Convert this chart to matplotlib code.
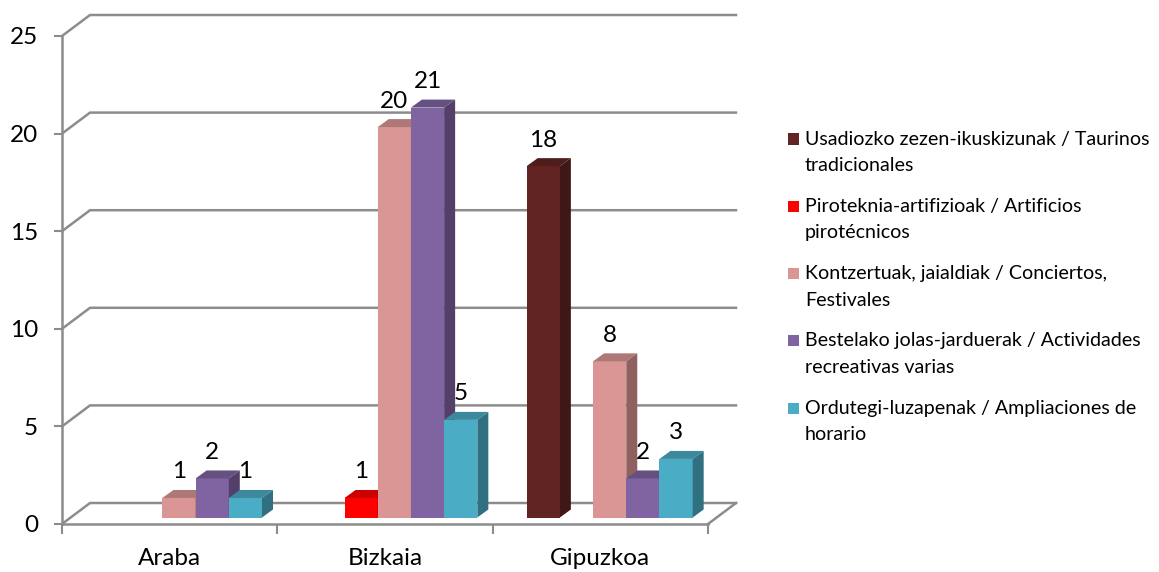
#!/usr/bin/env python3
import matplotlib
matplotlib.use('Agg')
import matplotlib.pyplot as plt
from matplotlib.patches import Polygon, Rectangle

plt.rcParams['font.family'] = ['Lato', 'DejaVu Sans']

provinces = ['Araba', 'Bizkaia', 'Gipuzkoa']
y_ticks = [0, 5, 10, 15, 20, 25]

series_labels = [
    'Usadiozko zezen-ikuskizunak / Taurinos\ntradicionales',
    'Piroteknia-artifizioak / Artificios\npirotécnicos',
    'Kontzertuak, jaialdiak / Conciertos,\nFestivales',
    'Bestelako jolas-jarduerak / Actividades\nrecreativas varias',
    'Ordutegi-luzapenak / Ampliaciones de\nhorario',
]
taurinos = [0, 0, 18]
piroteknia = [0, 1, 0]
kontzertuak = [1, 20, 8]
bestelako = [2, 21, 2]
ordutegi = [1, 5, 3]
series_values = [taurinos, piroteknia, kontzertuak, bestelako, ordutegi]

front_colors = ['#622423', '#ff0000', '#d99694', '#8064a2', '#4bacc6']
top_colors = ['#4f1d1c', '#cc0000', '#ae7876', '#655081', '#3c899e']
side_colors = ['#3e1716', '#a00000', '#8e6160', '#533f6a', '#307080']
grid_color = '#8c8c8c'

W, H = 1159, 572
fig = plt.figure(figsize=(W / 100, H / 100), dpi=100)
ax = fig.add_axes([62 / W, (H - 524) / H, 646 / W, 488 / H])
ax.set_xlim(0, len(provinces))
ax.set_ylim(0, 25)

# pixel sizes turned into data units
px_x = len(provinces) / 646
px_y = 25 / 488
wall_dx, wall_dy = 28 * px_x, 21 * px_y
bar_dx, bar_dy = 11 * px_x, 8 * px_y
base = 6.5 * px_y
bar_w = 33.2 * px_x
group_gap = 34 * px_x

# walls and floor
for v in y_ticks:
    ax.plot([0, wall_dx, len(provinces) + wall_dx], [v, v + wall_dy, v + wall_dy],
            color=grid_color, lw=1.8, clip_on=False, zorder=1, solid_joinstyle='miter')
ax.plot([len(provinces), len(provinces) + wall_dx], [0, wall_dy],
        color=grid_color, lw=1.8, clip_on=False, zorder=1)

# 3d bars, left to right so the next front covers the previous side
for g in range(len(provinces)):
    for s, vals in enumerate(series_values):
        v = vals[g]
        if v == 0:
            continue
        x0 = g + group_gap + s * bar_w
        x1 = x0 + bar_w
        top = base + v
        z = 3 + g * 10 + s
        ax.bar(x0, v, width=bar_w, bottom=base, align='edge', color=front_colors[s],
               linewidth=0, zorder=z, clip_on=False)
        ax.add_patch(Polygon([(x0, top), (x1, top), (x1 + bar_dx, top + bar_dy), (x0 + bar_dx, top + bar_dy)],
                             closed=True, fc=top_colors[s], ec='none', zorder=z, clip_on=False))
        ax.add_patch(Polygon([(x1, base), (x1 + bar_dx, base + bar_dy), (x1 + bar_dx, top + bar_dy), (x1, top)],
                             closed=True, fc=side_colors[s], ec='none', zorder=z, clip_on=False))
        ax.text(x0 + bar_w / 2, top + 26 * px_y, str(v), ha='center', va='center',
                fontsize=17.5, color='black', zorder=100)

# axes
for side in ['top', 'right']:
    ax.spines[side].set_visible(False)
for side in ['left', 'bottom']:
    ax.spines[side].set_color(grid_color)
    ax.spines[side].set_linewidth(1.8)
ax.patch.set_visible(False)
ax.set_yticks(y_ticks)
ax.tick_params(axis='y', length=5.8, width=1.5, color=grid_color, pad=11.5, labelsize=17.5)
ax.set_xticks(range(len(provinces) + 1))
ax.set_xticklabels([])
ax.tick_params(axis='x', which='major', length=7, width=1.5, color=grid_color)
ax.set_xticks([i + 0.5 for i in range(len(provinces))], minor=True)
ax.set_xticklabels(provinces, minor=True)
ax.tick_params(axis='x', which='minor', length=0, pad=17, labelsize=17.5)

# legend on the right
for i, label in enumerate(series_labels):
    y = 139 + i * 67.3
    fig.add_artist(Rectangle((788 / W, (H - y - 5.5) / H), 11 / W, 11 / H, transform=fig.transFigure,
                             fc=front_colors[i], ec='none'))
    first, second = label.split('\n')
    fig.text(805 / W, (H - y) / H, first, ha='left', va='center', fontsize=14.1, color='black')
    fig.text(805 / W, (H - y - 26.5) / H, second, ha='left', va='center', fontsize=14.1, color='black')

fig.savefig('out.png', dpi=100)
